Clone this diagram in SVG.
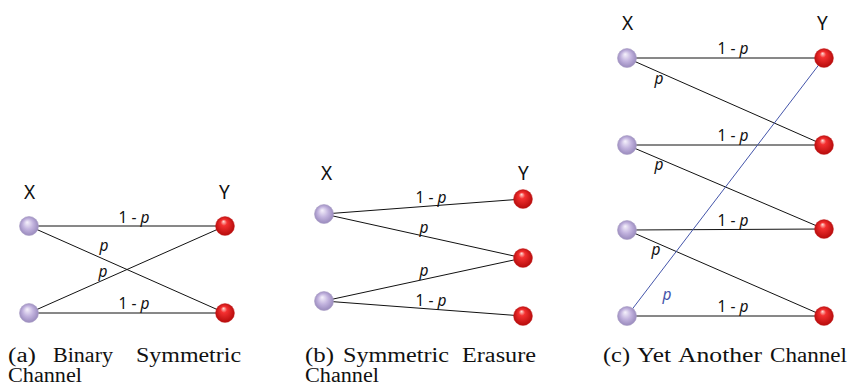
<svg xmlns="http://www.w3.org/2000/svg" width="849" height="386" viewBox="0 0 849 386">
<defs>
<radialGradient id="gP" cx="0.5" cy="0.5" r="0.55" fx="0.4" fy="0.3">
<stop offset="0" stop-color="#f6f2fc"/>
<stop offset="0.5" stop-color="#c2b3de"/>
<stop offset="1" stop-color="#9384b8"/>
</radialGradient>
<radialGradient id="gR" cx="0.5" cy="0.5" r="0.55" fx="0.42" fy="0.25">
<stop offset="0" stop-color="#ffe0d8"/>
<stop offset="0.3" stop-color="#f43030"/>
<stop offset="1" stop-color="#b00808"/>
</radialGradient>
</defs>
<style>
.lbl{font-family:"Noto Sans","Open Sans",sans-serif;font-size:19px;fill:#111}
.pl{font-family:"Noto Sans","Open Sans",sans-serif;font-size:15.5px;fill:#111;text-anchor:middle}
.it{font-style:italic}
.cap{font-family:"Liberation Serif","DejaVu Serif",serif;font-size:20px;fill:#111}
.ln{stroke:#111;stroke-width:1;fill:none}
.bl{stroke:#4455aa;stroke-width:1;fill:none}
.pin{fill:url(#gP);stroke:#a99ec4;stroke-width:0.6}
.pout{fill:url(#gR);stroke:#c62020;stroke-width:0.4}
</style>

<g id="connectors">
<line class="ln" x1="29" y1="226" x2="225" y2="226"/>
<line class="ln" x1="29" y1="226" x2="225" y2="313"/>
<line class="ln" x1="29" y1="313" x2="225" y2="226"/>
<line class="ln" x1="29" y1="313" x2="225" y2="313"/>
<line class="ln" x1="324" y1="214" x2="523" y2="199"/>
<line class="ln" x1="324" y1="214" x2="523" y2="258"/>
<line class="ln" x1="324" y1="301" x2="523" y2="258"/>
<line class="ln" x1="324" y1="301" x2="523" y2="316"/>
<line class="ln" x1="627" y1="58" x2="824" y2="58"/>
<line class="ln" x1="627" y1="58" x2="824" y2="145"/>
<line class="ln" x1="627" y1="145" x2="824" y2="145"/>
<line class="ln" x1="627" y1="145" x2="824" y2="229"/>
<line class="ln" x1="627" y1="230" x2="824" y2="229"/>
<line class="ln" x1="627" y1="230" x2="824" y2="316"/>
<line class="ln" x1="627" y1="316" x2="824" y2="316"/>
<line class="bl" x1="627" y1="316" x2="824" y2="58"/>
</g>

<g id="edge-labels">
<text class="pl" x="134" y="223">1 - <tspan class="it">p</tspan></text>
<text class="pl it" x="104" y="251">p</text>
<text class="pl it" x="103" y="277">p</text>
<text class="pl" x="134" y="309">1 - <tspan class="it">p</tspan></text>

<text class="pl" x="431" y="203">1 - <tspan class="it">p</tspan></text>
<text class="pl it" x="424" y="233">p</text>
<text class="pl it" x="424" y="276">p</text>
<text class="pl" x="431" y="306">1 - <tspan class="it">p</tspan></text>

<text class="pl" x="733" y="54">1 - <tspan class="it">p</tspan></text>
<text class="pl it" x="659" y="84">p</text>
<text class="pl" x="733" y="141">1 - <tspan class="it">p</tspan></text>
<text class="pl it" x="659" y="170">p</text>
<text class="pl" x="733" y="226">1 - <tspan class="it">p</tspan></text>
<text class="pl it" x="656" y="255">p</text>
<text class="pl it" x="667" y="300" style="fill:#4455aa">p</text>
<text class="pl" x="733" y="312">1 - <tspan class="it">p</tspan></text>
</g>

<g id="a-X"><text class="lbl" x="24" y="199">X</text></g>
<g id="a-Y"><text class="lbl" x="219" y="199">Y</text></g>
<g id="a-x0"><circle class="pin" cx="29" cy="226" r="9.5"/></g>
<g id="a-x1"><circle class="pin" cx="29" cy="313" r="9.5"/></g>
<g id="a-y0"><circle class="pout" cx="225" cy="226" r="9.5"/></g>
<g id="a-y1"><circle class="pout" cx="225" cy="313" r="9.5"/></g>

<g id="b-X"><text class="lbl" x="321" y="180">X</text></g>
<g id="b-Y"><text class="lbl" x="518" y="180">Y</text></g>
<g id="b-x0"><circle class="pin" cx="324" cy="214" r="9.5"/></g>
<g id="b-x1"><circle class="pin" cx="324" cy="301" r="9.5"/></g>
<g id="b-y0"><circle class="pout" cx="523" cy="199" r="9.5"/></g>
<g id="b-y1"><circle class="pout" cx="523" cy="258" r="9.5"/></g>
<g id="b-y2"><circle class="pout" cx="523" cy="316" r="9.5"/></g>

<g id="c-X"><text class="lbl" x="622" y="30">X</text></g>
<g id="c-Y"><text class="lbl" x="817" y="30">Y</text></g>
<g id="c-x0"><circle class="pin" cx="627" cy="58" r="9.5"/></g>
<g id="c-x1"><circle class="pin" cx="627" cy="145" r="9.5"/></g>
<g id="c-x2"><circle class="pin" cx="627" cy="230" r="9.5"/></g>
<g id="c-x3"><circle class="pin" cx="627" cy="316" r="9.5"/></g>
<g id="c-y0"><circle class="pout" cx="824" cy="58" r="9.5"/></g>
<g id="c-y1"><circle class="pout" cx="824" cy="145" r="9.5"/></g>
<g id="c-y2"><circle class="pout" cx="824" cy="229" r="9.5"/></g>
<g id="c-y3"><circle class="pout" cx="824" cy="316" r="9.5"/></g>

<g id="captions">
<text class="cap" x="8" y="362" textLength="28" lengthAdjust="spacingAndGlyphs">(a)</text>
<text class="cap" x="53" y="362" textLength="60" lengthAdjust="spacingAndGlyphs">Binary</text>
<text class="cap" x="136" y="362" textLength="105" lengthAdjust="spacingAndGlyphs">Symmetric</text>
<text class="cap" x="8" y="382" textLength="74" lengthAdjust="spacingAndGlyphs">Channel</text>

<text class="cap" x="305" y="362" textLength="29" lengthAdjust="spacingAndGlyphs">(b)</text>
<text class="cap" x="343" y="362" textLength="106" lengthAdjust="spacingAndGlyphs">Symmetric</text>
<text class="cap" x="462" y="362" textLength="74" lengthAdjust="spacingAndGlyphs">Erasure</text>
<text class="cap" x="305" y="382" textLength="74" lengthAdjust="spacingAndGlyphs">Channel</text>

<text class="cap" x="603" y="362" textLength="27" lengthAdjust="spacingAndGlyphs">(c)</text>
<text class="cap" x="637" y="362" textLength="34" lengthAdjust="spacingAndGlyphs">Yet</text>
<text class="cap" x="678" y="362" textLength="84" lengthAdjust="spacingAndGlyphs">Another</text>
<text class="cap" x="770" y="362" textLength="77" lengthAdjust="spacingAndGlyphs">Channel</text>
</g>
</svg>
